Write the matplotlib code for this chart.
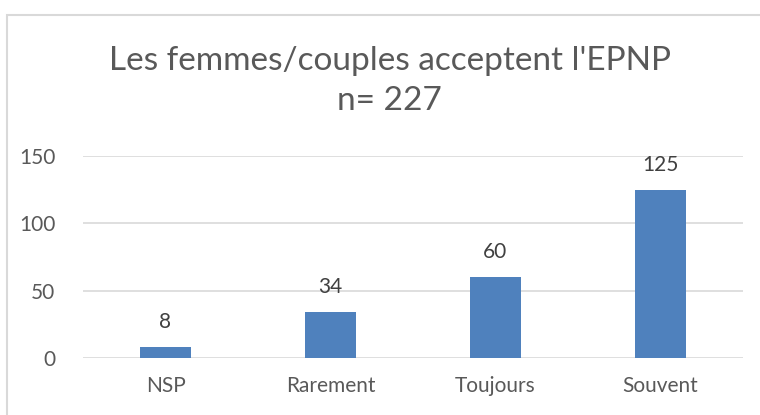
import matplotlib
matplotlib.use('Agg')
import matplotlib.pyplot as plt
from matplotlib.patches import Rectangle

plt.rcParams['font.family'] = ['Lato', 'DejaVu Sans']

categories = ['NSP', 'Rarement', 'Toujours', 'Souvent']
values = [8, 34, 60, 125]
yticks = [0, 50, 100, 150]
title = "Les femmes/couples acceptent l'EPNP\nn= 227"

W, H = 760, 415
fig = plt.figure(figsize=(W / 100, H / 100), dpi=100)

# chart frame (Excel style), runs off the right and bottom edges
fig.patches.append(Rectangle((7 / W, -0.1), 1.0, 1.1 - 15 / H,
                             transform=fig.transFigure, fill=False,
                             edgecolor='#D9D9D9', linewidth=1.5))

ax = fig.add_axes([83 / W, 57 / H, 660 / W, 202 / H])
x = range(len(categories))
bars = ax.bar(x, values, width=0.315, color='#4F81BD', zorder=3)

for b, v in zip(bars, values):
    ax.annotate(str(v), (b.get_x() + b.get_width() / 2, v),
                xytext=(0, 18), textcoords='offset points',
                ha='center', va='center', fontsize=15, color='#404040')

ax.set_xlim(-0.5, len(categories) - 0.5)
ax.set_ylim(0, 150)
ax.set_yticks(yticks)
ax.set_xticks(list(x))
ax.set_xticklabels(categories)
ax.yaxis.grid(True, color='#D9D9D9', linewidth=1.2)
ax.set_axisbelow(True)
for s in ax.spines.values():
    s.set_visible(False)
ax.tick_params(axis='both', length=0, labelsize=15, labelcolor='#595959')
ax.tick_params(axis='y', pad=20)
ax.tick_params(axis='x', pad=13)

fig.text(0.513, 1 - 81 / H, title, ha='center', va='center',
         fontsize=24, color='#595959', linespacing=1.4)

plt.savefig('out.png', dpi=100)
plt.close(fig)
